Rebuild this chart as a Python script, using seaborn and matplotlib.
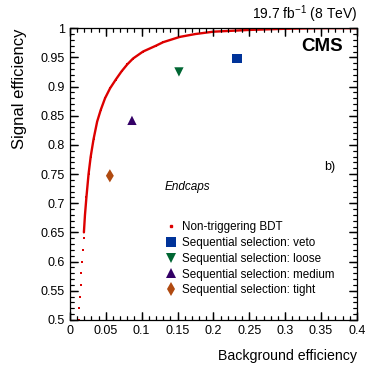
import numpy as np
import pandas as pd
import matplotlib
matplotlib.use("Agg")
import matplotlib.pyplot as plt
from matplotlib.lines import Line2D
from matplotlib.ticker import MultipleLocator
import seaborn as sns

# Non-triggering BDT ROC curve
bdt_bkg = [0.0125, 0.013, 0.014, 0.015, 0.016, 0.017, 0.018, 0.019, 0.0195,
           0.021, 0.023, 0.026, 0.029, 0.033, 0.038, 0.043, 0.049, 0.056,
           0.064, 0.072, 0.080, 0.088, 0.102, 0.12, 0.13, 0.153, 0.175,
           0.20, 0.25, 0.30, 0.35, 0.40]
bdt_sig = [0.50, 0.52, 0.54, 0.56, 0.58, 0.60, 0.62, 0.64, 0.65,
           0.68, 0.71, 0.75, 0.78, 0.81, 0.84, 0.86, 0.88, 0.897,
           0.912, 0.926, 0.938, 0.948, 0.96, 0.97, 0.976, 0.985, 0.990,
           0.994, 0.997, 0.999, 1.0, 1.0]

# Sequential selection working points
wp_names = ["Sequential selection: veto", "Sequential selection: loose",
            "Sequential selection: medium", "Sequential selection: tight"]
wp_bkg = [0.233, 0.152, 0.0865, 0.0557]
wp_sig = [0.948, 0.925, 0.842, 0.747]

x_ticks = [0, 0.05, 0.1, 0.15, 0.2, 0.25, 0.3, 0.35, 0.4]
x_labels = ["0", "0.05", "0.1", "0.15", "0.2", "0.25", "0.3", "0.35", "0.4"]
y_ticks = [0.5, 0.55, 0.6, 0.65, 0.7, 0.75, 0.8, 0.85, 0.9, 0.95, 1.0]
y_labels = ["0.5", "0.55", "0.6", "0.65", "0.7", "0.75", "0.8", "0.85",
            "0.9", "0.95", "1"]

wp_colors = {wp_names[0]: "#003399", wp_names[1]: "#006633",
             wp_names[2]: "#330066", wp_names[3]: "#b04a10"}
wp_markers = {wp_names[0]: "s", wp_names[1]: "v",
              wp_names[2]: "^", wp_names[3]: "d"}

bdt = pd.DataFrame({"bkg": bdt_bkg, "sig": bdt_sig})
wp = pd.DataFrame({"bkg": wp_bkg, "sig": wp_sig, "name": wp_names})

sns.set_style("ticks")
plt.rcParams.update({
    "font.family": ["Liberation Sans", "DejaVu Sans"],
    "mathtext.fontset": "custom",
    "mathtext.rm": "Liberation Sans",
    "xtick.color": "black", "ytick.color": "black",
    "axes.edgecolor": "black", "axes.linewidth": 0.9,
    "axes.labelcolor": "black", "text.color": "black",
    "axes.axisbelow": False,
})

fig = plt.figure(figsize=(3.66, 3.66), dpi=100)
ax = fig.add_axes([0.191, 0.126, 0.784, 0.797])

red = "#dd0000"
# sparse dotted lower part, solid line above
sns.scatterplot(data=bdt, x="bkg", y="sig", ax=ax, color=red, marker="s",
                s=3, linewidth=0, legend=False)
sns.lineplot(data=bdt[bdt["sig"] >= 0.65], x="bkg", y="sig", ax=ax,
             color=red, linewidth=1.7, sort=False, estimator=None)

sns.scatterplot(data=wp, x="bkg", y="sig", hue="name", style="name",
                palette=wp_colors, markers=wp_markers, s=45, linewidth=0,
                ax=ax, legend=True)

handles, labels = ax.get_legend_handles_labels()
bdt_handle = Line2D([], [], color=red, marker="s", markersize=1.8,
                    linestyle="none")
ax.legend([bdt_handle] + handles, ["Non-triggering BDT"] + labels,
          loc="upper left", bbox_to_anchor=(0.31, 0.355), frameon=False,
          fontsize=8.4, handletextpad=0.4, labelspacing=0.33,
          handlelength=1.2, borderaxespad=0)

ax.set_xlim(0, 0.4)
ax.set_ylim(0.5, 1.0)
ax.set_xticks(x_ticks)
ax.set_xticklabels(x_labels)
ax.set_yticks(y_ticks)
ax.set_yticklabels(y_labels)
ax.xaxis.set_minor_locator(MultipleLocator(0.01))
ax.yaxis.set_minor_locator(MultipleLocator(0.01))
ax.tick_params(which="both", direction="in", top=True, right=True,
               labelsize=9, length=6, width=0.9)
ax.tick_params(which="minor", length=3, width=0.8)

# ROOT-style inward ticks on all four sides, drawn as lines as well
xt = ax.get_xaxis_transform()
yt = ax.get_yaxis_transform()
x_minor = np.arange(0, 0.4001, 0.01)
y_minor = np.arange(0.5, 1.0001, 0.01)
for pos, L, lw in [(x_ticks, 0.028, 0.9), (x_minor, 0.014, 0.8)]:
    ax.vlines(pos, 0, L, transform=xt, colors="black", lw=lw, clip_on=False)
    ax.vlines(pos, 1 - L, 1, transform=xt, colors="black", lw=lw,
              clip_on=False)
for pos, L, lw in [(y_ticks, 0.028, 0.9), (y_minor, 0.014, 0.8)]:
    ax.hlines(pos, 0, L, transform=yt, colors="black", lw=lw, clip_on=False)
    ax.hlines(pos, 1 - L, 1, transform=yt, colors="black", lw=lw,
              clip_on=False)

ax.set_xlabel("Background efficiency", fontsize=10.2, loc="right",
              labelpad=9)
ax.set_ylabel("Signal efficiency", fontsize=12, loc="top", labelpad=10)

ax.text(1.0, 1.012, r"19.7 fb$^{-1}$ (8 TeV)", transform=ax.transAxes,
        ha="right", va="bottom", fontsize=10)
ax.text(0.951, 0.966, "CMS", transform=ax.transAxes, ha="right", va="top",
        fontsize=13.5, fontweight="bold")
ax.text(0.885, 0.525, "b)", transform=ax.transAxes, ha="left",
        va="center", fontsize=9)
ax.text(0.33, 0.455, "Endcaps", transform=ax.transAxes, ha="left",
        va="center", fontsize=8.5, style="italic")

fig.savefig("out.png", dpi=100)
